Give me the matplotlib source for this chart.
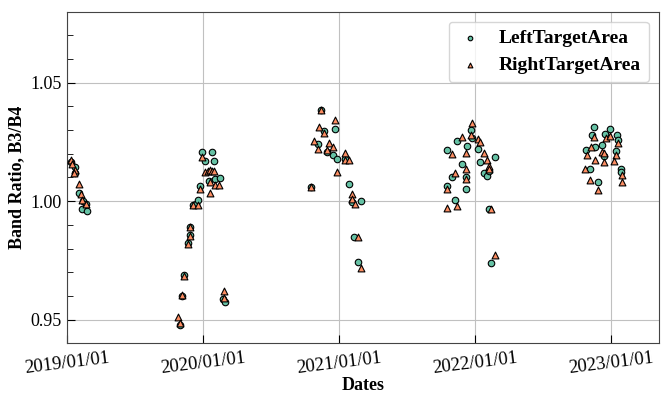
import matplotlib.pyplot as plt
import matplotlib.dates as mdates
import pandas as pd

# LeftTargetArea (circles)
left_dates = [
    '2019-01-13', '2019-01-22', '2019-01-22', '2019-02-03', '2019-02-14', '2019-02-21', '2019-02-12', '2019-02-23',
    '2019-11-01', '2019-11-06', '2019-11-12', '2019-11-23', '2019-11-28', '2019-11-29', '2019-12-05', '2019-12-15',
    '2019-12-18', '2019-12-24', '2019-12-29', '2020-01-08', '2020-01-26', '2020-01-30', '2020-01-19', '2020-02-03',
    '2020-02-16', '2020-02-25', '2020-03-01',
    '2020-11-14', '2020-12-22', '2020-11-21', '2020-11-06', '2020-11-30', '2020-12-16', '2020-12-26', '2020-10-19',
    '2021-01-18', '2021-01-27', '2021-02-06', '2021-02-28', '2021-02-11', '2021-02-22',
    '2021-12-21', '2021-12-25', '2021-11-13', '2021-12-11', '2022-01-10', '2021-10-18', '2022-02-23', '2022-01-16',
    '2021-11-28', '2022-01-25', '2022-02-02', '2022-02-07', '2021-11-02', '2021-12-09', '2021-10-18', '2021-12-09',
    '2021-11-08', '2022-02-07', '2022-02-13',
    '2022-11-17', '2022-12-29', '2022-11-11', '2022-12-18', '2023-01-19', '2023-01-20', '2022-11-20', '2022-12-08',
    '2022-10-26', '2022-12-14', '2023-01-15', '2022-11-06', '2023-01-30', '2023-01-30', '2022-11-27',
]
left_values = [
    1.0165, 1.0145, 1.0120, 1.0035, 0.9999, 0.9987, 0.9965, 0.9959,
    0.9477, 0.9600, 0.9686, 0.9822, 0.9855, 0.9892, 0.9985, 0.9987,
    1.0004, 1.0065, 1.0208, 1.0170, 1.0208, 1.0170, 1.0086, 1.0093,
    1.0098, 0.9585, 0.9575,
    1.0387, 1.0307, 1.0295, 1.0240, 1.0208, 1.0193, 1.0180, 1.0060,
    1.0180, 1.0072, 0.9997, 1.0001, 0.9849, 0.9744,
    1.0300, 1.0265, 1.0253, 1.0232, 1.0219, 1.0215, 1.0186, 1.0166,
    1.0159, 1.0119, 1.0108, 1.0127, 1.0103, 1.0100, 1.0066, 1.0052,
    1.0007, 0.9965, 0.9737,
    1.0313, 1.0307, 1.0278, 1.0283, 1.0278, 1.0260, 1.0227, 1.0239,
    1.0215, 1.0190, 1.0212, 1.0138, 1.0138, 1.0124, 1.0081,
]

# RightTargetArea (triangles)
right_dates = [
    '2019-01-11', '2019-01-16', '2019-01-22', '2019-01-19', '2019-02-03', '2019-02-07', '2019-02-12', '2019-02-21',
    '2019-10-27', '2019-11-01', '2019-11-06', '2019-11-12', '2019-11-23', '2019-11-28', '2019-11-29', '2019-12-05',
    '2019-12-18', '2019-12-24', '2019-12-29', '2020-01-08', '2020-01-14', '2020-01-20', '2020-01-27', '2020-02-01',
    '2020-01-20', '2020-02-02', '2020-02-15', '2020-01-20', '2020-02-26', '2020-02-28',
    '2020-11-14', '2020-12-22', '2020-11-09', '2020-11-21', '2020-10-25', '2020-11-06', '2020-12-06', '2020-12-16',
    '2020-11-30', '2020-12-26', '2020-10-19', '2021-01-18', '2021-01-18', '2021-01-28', '2021-02-06', '2021-02-06',
    '2021-02-13', '2021-02-22', '2021-02-28',
    '2021-12-25', '2021-12-21', '2021-11-28', '2022-01-09', '2022-01-16', '2021-11-02', '2021-12-09', '2022-01-26',
    '2022-02-02', '2022-02-07', '2022-02-07', '2021-12-09', '2021-11-08', '2021-12-09', '2021-10-18', '2021-11-13',
    '2021-10-18', '2022-02-14', '2022-02-23',
    '2022-11-16', '2022-12-20', '2022-12-30', '2023-01-21', '2022-11-10', '2022-10-30', '2022-12-08', '2022-12-14',
    '2022-12-14', '2023-01-15', '2023-01-10', '2022-11-21', '2022-10-25', '2023-01-31', '2023-01-31', '2022-11-06',
    '2022-11-27',
]
right_values = [
    1.0176, 1.0156, 1.0131, 1.0117, 1.0072, 1.0030, 1.0004, 0.9990,
    0.9512, 0.9487, 0.9603, 0.9684, 0.9819, 0.9852, 0.9889, 0.9983,
    0.9983, 1.0051, 1.0187, 1.0124, 1.0129, 1.0131, 1.0129, 1.0127,
    1.0081, 1.0068, 1.0068, 1.0035, 0.9622, 0.9592,
    1.0387, 1.0342, 1.0313, 1.0290, 1.0254, 1.0222, 1.0246, 1.0227,
    1.0215, 1.0122, 1.0060, 1.0204, 1.0176, 1.0173, 1.0032, 1.0011,
    0.9987, 0.9847, 0.9719,
    1.0330, 1.0278, 1.0269, 1.0262, 1.0250, 1.0201, 1.0204, 1.0204,
    1.0173, 1.0148, 1.0134, 1.0136, 1.0119, 1.0094, 1.0051, 0.9980,
    0.9973, 0.9969, 0.9771,
    1.0269, 1.0267, 1.0276, 1.0246, 1.0229, 1.0194, 1.0208, 1.0204,
    1.0166, 1.0194, 1.0170, 1.0173, 1.0134, 1.0110, 1.0081, 1.0089,
    1.0046,
]

tick_dates = ['2019-01-01', '2020-01-01', '2021-01-01', '2022-01-01', '2023-01-01']

plt.rcParams['font.family'] = ['Liberation Serif', 'DejaVu Serif']

fig = plt.figure(figsize=(6.62, 3.94), dpi=100)
ax = fig.add_axes([0.101, 0.129, 0.894, 0.841])

ax.scatter(pd.to_datetime(left_dates), left_values, marker='o', s=22, color='#66c2a5',
           edgecolors='black', linewidths=0.8, label='LeftTargetArea', zorder=3)
ax.scatter(pd.to_datetime(right_dates), right_values, marker='^', s=24, color='#fc8d62',
           edgecolors='black', linewidths=0.8, label='RightTargetArea', zorder=3)

ax.set_xlim(pd.Timestamp('2019-01-01'), pd.Timestamp('2023-05-10'))
ax.set_ylim(0.94, 1.08)
ax.set_xticks(pd.to_datetime(tick_dates))
ax.xaxis.set_major_formatter(mdates.DateFormatter('%Y/%m/%d'))
ax.set_yticks([0.95, 1.00, 1.05])
ax.set_yticks([0.94 + 0.01 * i for i in range(15)], minor=True)

ax.tick_params(axis='both', which='both', direction='in', labelsize=13)
ax.tick_params(axis='y', which='major', length=6)
ax.tick_params(axis='y', which='minor', length=4)
ax.tick_params(axis='x', which='major', length=6, pad=5, labelsize=13.5)
for lbl in ax.get_xticklabels():
    lbl.set_rotation(7)
    lbl.set_ha('center')

ax.grid(True, which='major', color='#c0c0c0', linewidth=0.8)
ax.set_axisbelow(True)
for sp in ax.spines.values():
    sp.set_color('#444444')

ax.set_xlabel('Dates', fontsize=13, fontweight='bold', labelpad=0)
ax.set_ylabel('Band Ratio, B3/B4', fontsize=13, fontweight='bold')

ax.legend(loc='upper right', prop={'size': 14, 'weight': 'bold'}, markerscale=0.7,
          handlelength=1.4, handletextpad=0.8, borderpad=0.4, borderaxespad=0.5)

fig.savefig('out.png', dpi=100)
